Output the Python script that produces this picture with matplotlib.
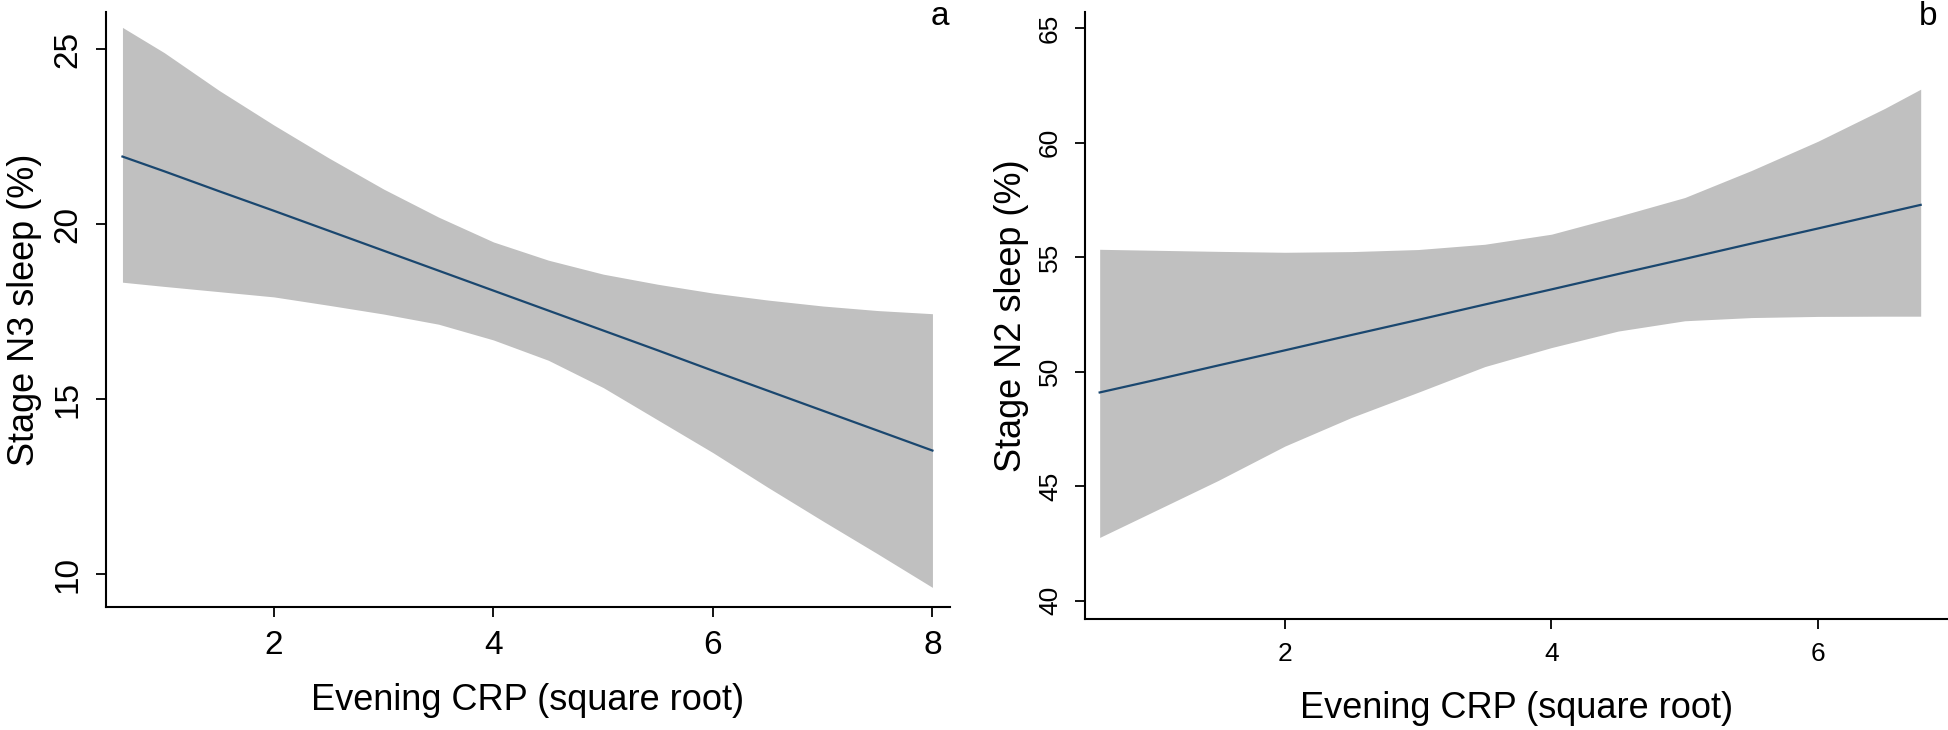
import numpy as np
import matplotlib
matplotlib.use("Agg")
import matplotlib.pyplot as plt

plt.rcParams["font.family"] = ["Liberation Sans", "DejaVu Sans"]

# --- Panel a: Stage N3 sleep vs evening CRP (fit + 95% CI) ---
crp_a = [0.62, 1.0, 1.5, 2.0, 2.5, 3.0, 3.5, 4.0, 4.5, 5.0, 5.5, 6.0, 6.5, 7.0, 7.5, 8.0]
fit_a = [21.93, 21.51, 20.94, 20.38, 19.81, 19.24, 18.67, 18.10, 17.53, 16.96, 16.39, 15.81, 15.24, 14.67, 14.10, 13.53]
lo_a = [18.34, 18.22, 18.07, 17.92, 17.68, 17.43, 17.14, 16.69, 16.11, 15.33, 14.40, 13.47, 12.48, 11.52, 10.58, 9.62]
hi_a = [25.62, 24.90, 23.82, 22.83, 21.89, 21.00, 20.20, 19.49, 18.97, 18.57, 18.28, 18.03, 17.83, 17.66, 17.53, 17.44]

# --- Panel b: Stage N2 sleep vs evening CRP ---
crp_b = [0.61, 1.0, 1.5, 2.0, 2.5, 3.0, 3.5, 4.0, 4.5, 5.0, 5.5, 6.0, 6.5, 6.77]
fit_b = [49.09, 49.60, 50.27, 50.93, 51.60, 52.26, 52.93, 53.59, 54.26, 54.92, 55.59, 56.25, 56.92, 57.28]
lo_b = [42.76, 43.85, 45.25, 46.75, 48.00, 49.10, 50.22, 51.05, 51.77, 52.22, 52.36, 52.41, 52.42, 52.42]
hi_b = [55.34, 55.30, 55.25, 55.21, 55.24, 55.33, 55.56, 56.00, 56.78, 57.60, 58.78, 60.06, 61.49, 62.33]

x_label = "Evening CRP (square root)"

BAND = "#c0c0c0"
NAVY = "#1a476f"

fig = plt.figure(figsize=(19.48, 7.30), dpi=100)
ax_a = fig.add_axes([106 / 1948, 123 / 730, 844 / 1948, 595 / 730])
ax_b = fig.add_axes([1085 / 1948, 111 / 730, 863 / 1948, 607 / 730])

panels = [
    (ax_a, crp_a, fit_a, lo_a, hi_a, "Stage N3 sleep (%)", (0.47, 8.16), (9.06, 26.06),
     [2, 4, 6, 8], [10, 15, 20, 25], 24, -0.128, -0.076),
    (ax_b, crp_b, fit_b, lo_b, hi_b, "Stage N2 sleep (%)", (0.5, 6.975), (39.2, 65.7),
     [2, 4, 6], [40, 45, 50, 55, 60, 65], 19, -0.119, -0.065),
]

for ax, x, fit, lo, hi, ylab, xlim, ylim, xt, yt, tsize, xl_y, yl_x in panels:
    ax.fill_between(x, lo, hi, color=BAND, linewidth=0)
    ax.plot(x, fit, color=NAVY, linewidth=1.6)
    ax.set_xlim(*xlim)
    ax.set_ylim(*ylim)
    ax.set_xticks(xt)
    ax.set_yticks(yt)
    ax.set_yticklabels([str(v) for v in yt], rotation=90, va="center")
    ax.tick_params(direction="out", length=7.5, width=1.3, labelsize=tsize, pad=9)
    for side in ("top", "right"):
        ax.spines[side].set_visible(False)
    for side in ("left", "bottom"):
        ax.spines[side].set_linewidth(1.5)
    ax.set_xlabel(x_label, fontsize=26)
    ax.set_ylabel(ylab, fontsize=26)
    ax.xaxis.set_label_coords(0.5, xl_y)
    ax.yaxis.set_label_coords(yl_x, 0.5)

fig.text(940 / 1948, 1 - 25 / 730, "a", fontsize=24, ha="center", va="baseline")
fig.text(1928 / 1948, 1 - 25 / 730, "b", fontsize=24, ha="center", va="baseline")

fig.savefig("out.png", dpi=100)
plt.close(fig)
